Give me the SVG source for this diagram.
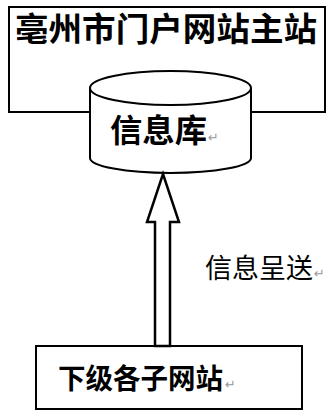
<svg xmlns="http://www.w3.org/2000/svg" width="333" height="412" viewBox="0 0 333 412">
<style>
.box{fill:#fff;stroke:#000;stroke-width:2}
.t{font-family:"Noto Sans CJK SC","Noto Sans",sans-serif;fill:#000}
.b{font-weight:bold}
.ret{font-family:"DejaVu Sans",sans-serif;fill:#999;font-size:13px}
</style>
<rect width="333" height="412" fill="#fff"/>
<g id="main-site">
<rect class="box" x="9" y="7" width="316" height="105"/>
<text class="t b" x="166" y="41" font-size="33" text-anchor="middle" textLength="302" lengthAdjust="spacingAndGlyphs">亳州市门户网站主站</text>
</g>
<g id="database">
<path class="box" d="M90,88 L90,158 A80.5,15 0 0 0 251,158 L251,88"/>
<ellipse class="box" cx="170.5" cy="88" rx="80.5" ry="17"/>
<text class="t b" x="110" y="142" font-size="32" textLength="97" lengthAdjust="spacingAndGlyphs">信息库</text>
<text class="ret" x="208" y="142">↵</text>
</g>
<g id="sub-sites">
<rect class="box" x="36" y="346" width="266" height="63"/>
<text class="t b" x="58" y="389" font-size="28" textLength="165" lengthAdjust="spacingAndGlyphs">下级各子网站</text>
<text class="ret" x="225" y="389">↵</text>
</g>
<g id="connectors">
<path d="M155,346 L155,222 L147,222 L163,174 L179,222 L170,222 L170,346 Z" fill="#fff" stroke="#000" stroke-width="2.5" stroke-linejoin="miter"/>
<text class="t" x="205" y="278" font-size="27" textLength="108" lengthAdjust="spacingAndGlyphs">信息呈送</text>
<text class="ret" x="314" y="278">↵</text>
</g>
</svg>
